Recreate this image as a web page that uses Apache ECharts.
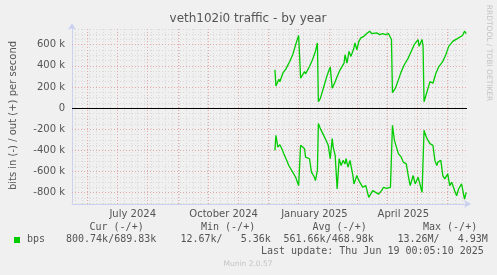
<!DOCTYPE html>
<html>
<head>
<meta charset="utf-8">
<script src="https://cdn.jsdelivr.net/npm/echarts@6/dist/echarts.min.js"></script>
<style>
  html, body { margin: 0; padding: 0; background: #f0f0f0; }
  #chart { width: 497px; height: 275px; }
</style>
</head>
<body>
<div id="chart"></div>
<script>
// out (+) traffic, bits per second
const outDates = [
  "2024-12-08", "2024-12-09", "2024-12-12", "2024-12-13", "2024-12-16", "2024-12-19",
  "2024-12-23", "2024-12-26", "2024-12-29", "2025-01-01", "2025-01-03", "2025-01-05",
  "2025-01-07", "2025-01-08", "2025-01-12", "2025-01-15", "2025-01-18", "2025-01-20",
  "2025-01-21", "2025-01-23", "2025-01-27", "2025-01-30", "2025-02-02", "2025-02-04",
  "2025-02-07", "2025-02-09", "2025-02-12", "2025-02-16", "2025-02-17", "2025-02-19",
  "2025-02-21", "2025-02-23", "2025-02-26", "2025-02-27", "2025-03-01", "2025-03-03",
  "2025-03-05", "2025-03-08", "2025-03-11", "2025-03-14", "2025-03-16", "2025-03-18",
  "2025-03-21", "2025-03-24", "2025-03-27", "2025-03-30", "2025-04-02", "2025-04-04",
  "2025-04-05", "2025-04-06", "2025-04-09", "2025-04-12", "2025-04-15", "2025-04-18",
  "2025-04-22", "2025-04-25", "2025-04-28", "2025-05-02", "2025-05-03", "2025-05-06",
  "2025-05-07", "2025-05-08", "2025-05-11", "2025-05-14", "2025-05-17", "2025-05-20",
  "2025-05-23", "2025-05-27", "2025-05-30", "2025-06-02", "2025-06-06", "2025-06-09",
  "2025-06-12", "2025-06-16", "2025-06-18", "2025-06-19 18:00"
];
const outValues = [
  362000, 210000, 273000, 250000, 330000, 369000,
  441000, 505000, 600000, 686000, 283000, 314000,
  346000, 324000, 393000, 457000, 536000, 616000,
  60000, 92000, 219000, 314000, 388000, 188000,
  250000, 298000, 362000, 426000, 505000, 426000,
  536000, 489000, 569000, 616000, 552000, 631000,
  664000, 679000, 705000, 727000, 705000, 700000,
  711000, 695000, 705000, 695000, 705000, 705000,
  648000, 146000, 188000, 267000, 346000, 410000,
  473000, 536000, 600000, 648000, 584000, 648000,
  584000, 60000, 155000, 250000, 235000, 330000,
  393000, 441000, 505000, 584000, 631000, 648000,
  664000, 686000, 727000, 705000
];

// in (-) traffic, bits per second
const inDates = [
  "2024-12-08", "2024-12-09", "2024-12-11", "2024-12-13", "2024-12-15", "2024-12-17",
  "2024-12-20", "2024-12-22", "2024-12-26", "2024-12-29", "2025-01-01", "2025-01-03",
  "2025-01-05", "2025-01-07", "2025-01-08", "2025-01-12", "2025-01-14", "2025-01-17",
  "2025-01-18", "2025-01-20", "2025-01-21", "2025-01-23", "2025-01-25", "2025-01-28",
  "2025-01-31", "2025-02-02", "2025-02-04", "2025-02-05", "2025-02-07", "2025-02-09",
  "2025-02-11", "2025-02-13", "2025-02-15", "2025-02-17", "2025-02-18", "2025-02-20",
  "2025-02-22", "2025-02-25", "2025-02-26", "2025-03-01", "2025-03-03", "2025-03-07",
  "2025-03-10", "2025-03-13", "2025-03-17", "2025-03-20", "2025-03-23", "2025-03-25",
  "2025-03-26", "2025-03-28", "2025-03-31", "2025-04-04", "2025-04-06", "2025-04-08",
  "2025-04-10", "2025-04-12", "2025-04-15", "2025-04-17", "2025-04-20", "2025-04-22",
  "2025-04-24", "2025-04-27", "2025-04-29", "2025-05-02", "2025-05-06", "2025-05-08",
  "2025-05-09", "2025-05-11", "2025-05-14", "2025-05-17", "2025-05-19", "2025-05-21",
  "2025-05-22", "2025-05-25", "2025-05-27", "2025-05-29", "2025-06-01", "2025-06-03",
  "2025-06-05", "2025-06-08", "2025-06-10", "2025-06-12", "2025-06-15", "2025-06-17",
  "2025-06-18", "2025-06-19 18:00"
];
const inValues = [
  -400000, -257000, -369000, -346000, -384000, -431000,
  -495000, -543000, -606000, -654000, -733000, -352000,
  -369000, -384000, -464000, -479000, -606000, -654000,
  -686000, -590000, -146000, -194000, -210000, -289000,
  -352000, -479000, -289000, -369000, -448000, -765000,
  -479000, -543000, -495000, -527000, -479000, -559000,
  -495000, -638000, -717000, -638000, -686000, -749000,
  -733000, -844000, -781000, -797000, -813000, -829000,
  -781000, -749000, -759000, -749000, -162000, -305000,
  -321000, -431000, -464000, -511000, -527000, -638000,
  -733000, -638000, -717000, -654000, -797000, -210000,
  -241000, -289000, -336000, -352000, -495000, -543000,
  -511000, -495000, -638000, -670000, -622000, -733000,
  -702000, -781000, -829000, -765000, -717000, -813000,
  -860000, -797000
];

const yLabelValues = [-800000, -600000, -400000, -200000, 0, 200000, 400000, 600000];
const xLabelDates = ["2024-07-17", "2024-10-17", "2025-01-17", "2025-04-17"];
const monthStarts = [
  "2024-06-01", "2024-07-01", "2024-08-01", "2024-09-01", "2024-10-01", "2024-11-01",
  "2024-12-01", "2025-01-01", "2025-02-01", "2025-03-01", "2025-04-01", "2025-05-01",
  "2025-06-01"
];
const monthNames = ["January", "February", "March", "April", "May", "June", "July",
  "August", "September", "October", "November", "December"];

const legendHeaders = ["Cur (-/+)", "Min (-/+)", "Avg (-/+)", "Max (-/+)"];
const legendValues = ["800.74k/689.83k", "12.67k/   5.36k", "561.66k/468.98k", "13.26M/   4.93M"];

const X_MIN = "2024-05-16 12:00";
const X_MAX = "2025-06-20 12:00";
const Y_MIN = -907000;
const Y_MAX = 767000;

const ts = s => echarts.time.parse(s).getTime();
const toPairs = (dates, values) => dates.map((d, i) => [ts(d), values[i]]);

const GREEN = "#00cc00";
const MAJOR = "#e4a8a8";
const MINOR = "#d9d9d9";
const AXIS = "#c9d0f0";
const FONT = "DejaVu Sans";
const MONO = "DejaVu Sans Mono";

function buildGridLines() {
  const lines = [];
  // weekly minor lines (Mondays)
  const first = echarts.time.parse("2024-05-20");
  const end = ts(X_MAX);
  for (let d = new Date(first); d.getTime() < end; d.setDate(d.getDate() + 7)) {
    lines.push({ xAxis: d.getTime(), lineStyle: { color: MINOR, type: [1, 2], width: 1 } });
  }
  // minor horizontal every 50k
  for (let v = -900000; v <= 750000; v += 50000) {
    if (v % 200000 === 0) continue;
    lines.push({ yAxis: v, lineStyle: { color: MINOR, type: [1, 2], width: 1 } });
  }
  monthStarts.forEach(m => {
    lines.push({ xAxis: ts(m), lineStyle: { color: MAJOR, type: [1, 2], width: 1 } });
  });
  yLabelValues.forEach(v => {
    if (v === 0) return;
    lines.push({ yAxis: v, lineStyle: { color: MAJOR, type: [1, 2], width: 1 } });
  });
  lines.push({ yAxis: 0, lineStyle: { color: "#000000", type: "solid", width: 1 } });
  return lines;
}

function text(x, y, str, opts) {
  return {
    type: "text",
    x, y,
    silent: true,
    style: Object.assign({
      text: str,
      fill: "#555555",
      fontFamily: MONO,
      fontSize: 10,
      textAlign: "left",
      textVerticalAlign: "middle"
    }, opts || {})
  };
}

const chart = echarts.init(document.getElementById("chart"), null, { renderer: "canvas" });

const graphics = [
  text(248, 19, "veth102i0 traffic - by year", { fontFamily: FONT, fontSize: 12, textAlign: "center" }),
  { type: "rect", shape: { x: 14, y: 237, width: 6, height: 6 }, style: { fill: GREEN }, silent: true },
  text(27, 239.5, "bps"),
  text(261, 251, "Last update: Thu Jun 19 00:05:10 2025"),
  text(248, 264.5, "Munin 2.0.57", { fontFamily: FONT, fontSize: 7.5, fill: "#c4c4c4", textAlign: "center" }),
  {
    type: "text",
    x: 489, y: 53,
    rotation: -Math.PI / 2,
    silent: true,
    style: {
      text: "RRDTOOL / TOBI OETIKER",
      fill: "#c4c4c4",
      fontFamily: FONT,
      fontSize: 7.5,
      textAlign: "center",
      textVerticalAlign: "middle"
    }
  }
];
const headerX = [89.5, 201, 312.5, 423];
const valueX = [66, 180.5, 283.5, 397.5];
legendHeaders.forEach((h, i) => graphics.push(text(headerX[i], 227.7, h)));
legendValues.forEach((v, i) => graphics.push(text(valueX[i], 239.5, v)));

chart.setOption({
  animation: false,
  backgroundColor: "#f0f0f0",
  grid: { left: 66, top: 27, width: 401, height: 177, containLabel: false },
  xAxis: {
    type: "value",
    min: ts(X_MIN),
    max: ts(X_MAX),
    axisLine: {
      onZero: false,
      lineStyle: { color: AXIS, width: 1 },
      symbol: ["none", "arrow"],
      symbolSize: [6, 7],
      symbolOffset: [0, 4]
    },
    axisTick: { show: false },
    splitLine: { show: false },
    axisLabel: {
      customValues: xLabelDates.map(ts),
      hideOverlap: false,
      color: "#555555",
      fontFamily: FONT,
      fontSize: 10,
      margin: 5,
      formatter: v => {
        const d = new Date(v);
        return monthNames[d.getMonth()] + " " + d.getFullYear();
      }
    }
  },
  yAxis: {
    type: "value",
    min: Y_MIN,
    max: Y_MAX,
    name: "bits in (-) / out (+) per second",
    nameLocation: "middle",
    nameGap: 54,
    nameTextStyle: { color: "#555555", fontFamily: FONT, fontSize: 10 },
    axisLine: {
      show: true,
      lineStyle: { color: AXIS, width: 1 },
      symbol: ["none", "arrow"],
      symbolSize: [6, 7],
      symbolOffset: [0, 4]
    },
    axisTick: { show: false },
    splitLine: { show: false },
    axisLabel: {
      customValues: yLabelValues,
      color: "#555555",
      fontFamily: FONT,
      fontSize: 10,
      margin: 7,
      formatter: v => (v === 0 ? "0" : (v / 1000) + " k")
    }
  },
  series: [
    {
      name: "grid",
      type: "line",
      data: [],
      silent: true,
      markLine: {
        silent: true,
        z: 1,
        symbol: "none",
        label: { show: false },
        emphasis: { disabled: true },
        animation: false,
        data: buildGridLines()
      }
    },
    {
      name: "out",
      type: "line",
      z: 4,
      data: toPairs(outDates, outValues),
      showSymbol: false,
      lineStyle: { color: GREEN, width: 1.3 },
      itemStyle: { color: GREEN }
    },
    {
      name: "in",
      type: "line",
      z: 4,
      data: toPairs(inDates, inValues),
      showSymbol: false,
      lineStyle: { color: GREEN, width: 1.3 },
      itemStyle: { color: GREEN }
    }
  ],
  graphic: graphics
});
</script>
</body>
</html>
